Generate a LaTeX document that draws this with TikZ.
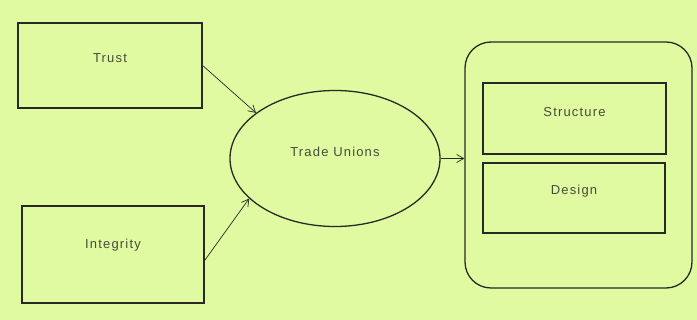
\documentclass[tikz,border=0pt]{standalone}
\usepackage{fontspec}
\setmainfont{Liberation Sans}[LetterSpace=9]
\usetikzlibrary{shapes.geometric,arrows.meta}
\definecolor{bgc}{RGB}{223,250,161}
\definecolor{ink}{RGB}{40,42,34}
\definecolor{txt}{RGB}{70,76,56}
\begin{document}
\begin{tikzpicture}[x=1pt,y=-1pt,
  boxs/.style={draw=ink,line width=1.3pt,inner sep=0pt,rectangle},
  lbl/.style={text=txt,font=\fontsize{13}{15}\selectfont,inner sep=0pt},
  conn/.style={draw=ink,line width=0.7pt,-{Straight Barb[length=7pt,width=8pt]}}]
\fill[bgc] (0,0) rectangle (697,320);
\useasboundingbox (0,0) rectangle (697,320);
\node[boxs,minimum width=184pt,minimum height=85pt] (trust) at (110,65.5) {};
\node[boxs,minimum width=182pt,minimum height=97pt] (integ) at (113,254.5) {};
\node[draw=ink,line width=1.3pt,ellipse,minimum width=210pt,minimum height=136pt,inner sep=0pt] (tu) at (335,158.5) {};
\node[boxs,rounded corners=26pt,minimum width=227pt,minimum height=246pt] (outer) at (578.5,165) {};
\node[boxs,minimum width=183pt,minimum height=71pt] (struct) at (574.5,118.5) {};
\node[boxs,minimum width=182pt,minimum height=70pt] (design) at (574,198) {};
\node[lbl] (ttrust) at ([yshift=7pt]trust.center) {Trust};
\node[lbl] (tinteg) at ([yshift=9pt]integ.center) {Integrity};
\node[lbl] (ttu) at ([yshift=7pt]tu.center) {Trade Unions};
\node[lbl] (tstruct) at ([yshift=6pt]struct.center) {Structure};
\node[lbl] (tdesign) at ([yshift=7pt]design.center) {Design};
\draw[conn] (trust.east) -- (tu.150);
\draw[conn] ([yshift=-6pt]integ.east) -- (tu.205);
\draw[conn] (tu.east) -- (tu.east -| outer.west);
\end{tikzpicture}
\end{document}
